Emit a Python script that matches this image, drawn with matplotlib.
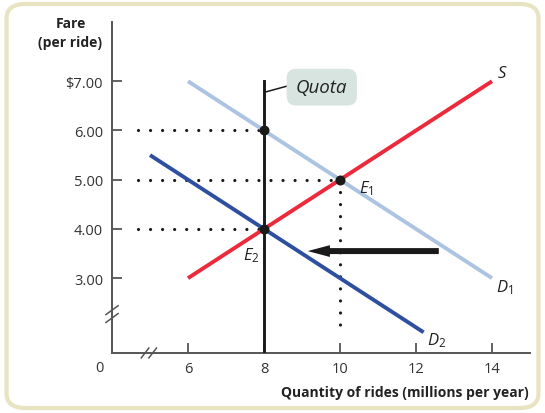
import matplotlib
matplotlib.use("Agg")
import matplotlib.pyplot as plt
from matplotlib.patches import FancyBboxPatch

# Data
yticks = [3, 4, 5, 6, 7]
ytick_labels = ["3.00", "4.00", "5.00", "6.00", "$7.00"]
xticks = [6, 8, 10, 12, 14]
xtick_labels = ["6", "8", "10", "12", "14"]

supply_q = [6, 14]
supply_p = [3, 7]
d1_q = [6, 14]
d1_p = [7, 3]
d2_q = [5, 12.2]
d2_p = [5.5, 1.9]
quota_q = 8
quota_top = 7
points_q = [8, 10, 8]
points_p = [6, 5, 4]

plt.rcParams['font.family'] = ['Open Sans', 'DejaVu Sans']
plt.rcParams['mathtext.fontset'] = 'custom'
plt.rcParams['mathtext.rm'] = 'Open Sans'
plt.rcParams['mathtext.it'] = 'Open Sans:italic'

fig = plt.figure(figsize=(5.45, 4.14), dpi=100)
# frame
fig.patches.append(FancyBboxPatch((0.012, 0.012), 0.976, 0.976,
                                  boxstyle="round,pad=0,rounding_size=0.035",
                                  transform=fig.transFigure, facecolor="white",
                                  edgecolor="#e8e4c2", linewidth=3, zorder=-10))

ax = fig.add_axes([112 / 545, 0.145, 418 / 545, 0.799])
ax.set_zorder(1)
ax.set_xlim(4, 15)
ax.set_ylim(1.48, 8.2)
ax.patch.set_alpha(0)
for s in ['top', 'right']:
    ax.spines[s].set_visible(False)
for s in ['left', 'bottom']:
    ax.spines[s].set_color('#555555')
    ax.spines[s].set_linewidth(1.4)

ax.set_xticks(xticks)
ax.set_xticklabels(xtick_labels)
ax.set_yticks(yticks)
ax.set_yticklabels(ytick_labels)
ax.tick_params(axis='both', direction='in', length=7.2, width=1.3, color='#555555',
               labelsize=10.5, labelcolor='#333333')
ax.tick_params(axis='x', pad=6)
ax.tick_params(axis='y', pad=6.5)

# zero label
ax.text(3.66, 1.33, "0", ha='center', va='top', fontsize=10.5, color='#333333', clip_on=False)

# break marks
lw_b = 1.1
for dx in [-0.1, 0.1]:
    ax.plot([4.97 + dx - 0.1, 4.97 + dx + 0.1], [1.38, 1.58], color='#555555', lw=lw_b, clip_on=False)
for dy in [-0.08, 0.08]:
    ax.plot([3.84, 4.16], [2.27 + dy - 0.09, 2.27 + dy + 0.09], color='#555555', lw=lw_b, clip_on=False)

# dotted guides
dot = dict(color='#1a1a1a', lw=2.3, linestyle=(0, (0.01, 3.76)), dash_capstyle='round', zorder=2)
ax.plot([4.69, 8], [6, 6], **dot)
ax.plot([4.69, 10], [5, 5], **dot)
ax.plot([4.69, 8], [4, 4], **dot)
ax.plot([10, 10], [5, 2.0], **dot)

# curves
ax.plot(d1_q, d1_p, color='#adc3e2', lw=2.8, solid_capstyle='butt', zorder=3)
ax.plot(d2_q, d2_p, color='#2e4fa0', lw=2.8, solid_capstyle='butt', zorder=3)
ax.plot(supply_q, supply_p, color='#ec2a3c', lw=2.8, solid_capstyle='butt', zorder=4)
ax.plot([quota_q, quota_q], [1.48, quota_top], color='#1a1a1a', lw=2.1, zorder=5)

ax.scatter(points_q, points_p, s=52, color='#1a1a1a', zorder=6, linewidths=0)

# arrow
ax.annotate("", xy=(9.15, 3.55), xytext=(12.6, 3.55),
            arrowprops=dict(arrowstyle='simple,head_length=1.6,head_width=0.85,tail_width=0.43',
                            color='#1a1a1a', lw=0, shrinkA=0, shrinkB=0, mutation_scale=10),
            zorder=6)

# labels
lab = dict(fontsize=12, color='#222222')
ax.text(14.13, 7.0, r"$\mathit{S}$", ha='left', va='bottom', **lab)
ax.text(14.1, 3.02, r"$\mathit{D}_{\mathrm{1}}$", ha='left', va='top', **lab)
ax.text(12.28, 1.95, r"$\mathit{D}_{\mathrm{2}}$", ha='left', va='top', **lab)
ax.text(10.5, 5.03, r"$\mathit{E}_{\mathrm{1}}$", ha='left', va='top', **lab)
ax.text(7.45, 3.66, r"$\mathit{E}_{\mathrm{2}}$", ha='left', va='top', **lab)

# quota label
ax.plot([8.03, 8.6], [6.78, 6.9], color='#1a1a1a', lw=1.1, zorder=5)
ax.text(9.52, 6.88, "Quota", fontsize=13.5, style='italic', color='#222222', ha='center', va='center',
        bbox=dict(boxstyle='round,pad=0.5,rounding_size=0.5', facecolor='#d8e4e0', edgecolor='none'),
        zorder=6)

# axis titles
fig.text(70.5 / 545, 1 - 24 / 414, "Fare", fontsize=10, fontweight='bold', color='#222222',
         ha='center', va='center')
fig.text(70.5 / 545, 1 - 43.5 / 414, "(per ride)", fontsize=10, fontweight='bold', color='#222222',
         ha='center', va='center')
fig.text(529 / 545, 1 - 393 / 414, "Quantity of rides (millions per year)", fontsize=10,
         fontweight='bold', color='#222222', ha='right', va='center')

fig.savefig("out.png", dpi=100)
